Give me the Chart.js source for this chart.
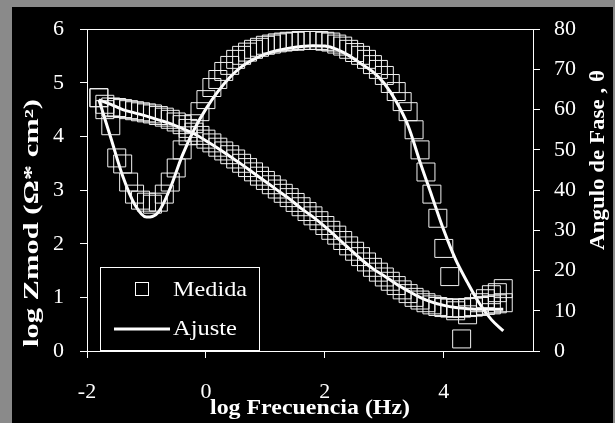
<!DOCTYPE html>
<html>
<head>
<meta charset="utf-8">
<script src="https://cdn.jsdelivr.net/npm/chart.js@4.4.1/dist/chart.umd.min.js"></script>
<style>
  html, body { margin: 0; padding: 0; background: #8a8a8a; }
  #wrap { width: 615px; height: 423px; }
</style>
</head>
<body>
<div id="wrap"><canvas id="bode" width="615" height="423"></canvas></div>
<script>
// --- datos ---
const logFreqMedida = [-1.8,-1.7,-1.6,-1.5,-1.4,-1.3,-1.2,-1.1,-1.0,-0.9,
  -0.8,-0.7,-0.6,-0.5,-0.4,-0.3,-0.2,-0.1,0.0,0.1,
  0.2,0.3,0.4,0.5,0.6,0.7,0.8,0.9,1.0,1.1,
  1.2,1.3,1.4,1.5,1.6,1.7,1.8,1.9,2.0,2.1,
  2.2,2.3,2.4,2.5,2.6,2.7,2.8,2.9,3.0,3.1,
  3.2,3.3,3.4,3.5,3.6,3.7,3.8,3.9,4.0,4.1,
  4.2,4.3,4.4,4.5,4.6,4.7,4.8,4.9,5.0];
const zmodMedida = [4.72,4.60,4.55,4.54,4.52,4.50,4.48,4.46,4.44,4.42,
  4.39,4.36,4.32,4.27,4.22,4.15,4.08,4.02,3.95,3.88,
  3.80,3.73,3.66,3.58,3.50,3.42,3.34,3.26,3.18,3.10,
  3.02,2.94,2.86,2.77,2.69,2.60,2.52,2.43,2.34,2.25,
  2.16,2.06,1.96,1.86,1.76,1.66,1.56,1.47,1.38,1.30,
  1.22,1.14,1.07,1.00,0.95,0.90,0.86,0.83,0.81,0.80,
  0.80,0.80,0.81,0.82,0.83,0.85,0.86,0.88,0.90];
const faseMedida = [63,60,56,48,46.5,42,39,37.5,37,36.5,
  37,39,42,45.5,50,53.5,56.5,59.5,62.5,65.5,
  67.5,69.5,71,72.5,73.5,74.3,75,75.5,76,76.3,
  76.6,76.8,77,77,77.2,77.2,77.2,77.2,77,76.8,
  76.3,75.8,75,74.2,73.5,72.5,71.2,70,68.5,66.5,
  64.5,62,59.5,55,50,44.5,39,33,25.5,18.5,
  10,3,9,11,12,13,14,14.5,15.5];

const logFreqAjuste = [-1.8,-1.6,-1.4,-1.2,-1.0,-0.8,-0.6,-0.4,-0.2,0.0,
  0.2,0.4,0.6,0.8,1.0,1.2,1.4,1.6,1.8,2.0,
  2.2,2.4,2.6,2.8,3.0,3.2,3.4,3.6,3.8,4.0,
  4.2,4.4,4.6,4.8,5.0];
const zmodAjuste = [4.68,4.60,4.50,4.44,4.38,4.31,4.24,4.15,4.05,3.92,
  3.78,3.63,3.48,3.32,3.16,3.00,2.84,2.66,2.50,2.32,
  2.12,1.92,1.72,1.54,1.40,1.25,1.12,1.00,0.91,0.85,
  0.81,0.79,0.78,0.78,0.78];
const faseAjuste = [62.5,53,43.5,36.5,33.3,34.5,40.5,48.5,55,60.2,
  64.5,68,70.7,72.5,73.8,74.7,75.3,75.7,75.9,75.8,
  75,73.5,71.5,69.5,66.5,62,56,47,38.5,30,
  22.7,17,11.8,7.8,5];

const xTicks = [-2, 0, 2, 4];
const serif = "'Liberation Serif', 'Times New Roman', serif";

function puntos(xs, ys) {
  return xs.map((x, i) => ({ x: x, y: ys[i] }));
}

// texto estirado a un largo dado (como en la imagen original)
function texto(ctx, str, x, y, rot, largo, font) {
  ctx.save();
  ctx.translate(x, y);
  ctx.rotate(rot);
  ctx.font = font;
  const w = ctx.measureText(str).width;
  ctx.scale(largo / w, 1);
  ctx.textAlign = 'center';
  ctx.textBaseline = 'middle';
  ctx.fillStyle = '#fff';
  ctx.fillText(str, 0, 0);
  ctx.restore();
}

// fondo, marco superior, títulos y leyenda
const marco = {
  id: 'marco',
  beforeDraw(chart) {
    const ctx = chart.ctx;
    ctx.save();
    ctx.fillStyle = '#8a8a8a';
    ctx.fillRect(0, 0, chart.width, chart.height);
    ctx.fillStyle = '#000';
    ctx.fillRect(12, 7, chart.width - 14, chart.height - 7);
    ctx.restore();
  },
  afterDraw(chart) {
    const ctx = chart.ctx;
    const a = chart.chartArea;
    ctx.save();
    ctx.strokeStyle = '#fff';
    ctx.lineWidth = 1;
    ctx.beginPath();
    ctx.moveTo(a.left, Math.round(a.top) + 0.5);
    ctx.lineTo(a.right, Math.round(a.top) + 0.5);
    ctx.stroke();

    texto(ctx, 'log Zmod (\u03A9* cm\u00B2)', 33, 223, -Math.PI / 2, 248, 'bold 20px ' + serif);
    texto(ctx, 'Angulo de Fase , \u03B8', 599, 160, -Math.PI / 2, 180, 'bold 20px ' + serif);
    texto(ctx, 'log Frecuencia (Hz)', 310, 409, 0, 200, 'bold 21px ' + serif);

    // leyenda
    ctx.fillStyle = '#000';
    ctx.fillRect(100, 267, 159, 83);
    ctx.strokeStyle = '#fff';
    ctx.lineWidth = 1;
    ctx.strokeRect(100.5, 267.5, 159, 83);
    ctx.strokeRect(135.5, 282.5, 13, 13);
    ctx.lineWidth = 3;
    ctx.beginPath();
    ctx.moveTo(114, 329);
    ctx.lineTo(170, 329);
    ctx.stroke();
    ctx.restore();
    texto(ctx, 'Medida', 210, 290, 0, 74, '21px ' + serif);
    texto(ctx, 'Ajuste', 205, 329, 0, 64, '21px ' + serif);
  }
};

const ejeComun = {
  grid: { drawOnChartArea: false, drawTicks: true, tickLength: 7, color: '#fff', lineWidth: 1 },
  border: { display: true, color: '#fff', width: 1 },
};

new Chart(document.getElementById('bode'), {
  type: 'scatter',
  data: {
    datasets: [
      {
        label: 'Medida',
        data: puntos(logFreqMedida, zmodMedida),
        yAxisID: 'y',
        showLine: false,
        pointStyle: 'rect',
        pointRadius: 12.7,
        pointBorderWidth: 1,
        pointBorderColor: '#f2f2f2',
        pointBackgroundColor: 'rgba(0,0,0,0)'
      },
      {
        label: 'Medida fase',
        data: puntos(logFreqMedida, faseMedida),
        yAxisID: 'y1',
        showLine: false,
        pointStyle: 'rect',
        pointRadius: 12.7,
        pointBorderWidth: 1,
        pointBorderColor: '#f2f2f2',
        pointBackgroundColor: 'rgba(0,0,0,0)'
      },
      {
        label: 'Ajuste',
        data: puntos(logFreqAjuste, zmodAjuste),
        yAxisID: 'y',
        showLine: true,
        borderColor: '#fff',
        borderWidth: 3,
        pointRadius: 0,
        cubicInterpolationMode: 'monotone',
        fill: false
      },
      {
        label: 'Ajuste fase',
        data: puntos(logFreqAjuste, faseAjuste),
        yAxisID: 'y1',
        showLine: true,
        borderColor: '#fff',
        borderWidth: 3,
        pointRadius: 0,
        cubicInterpolationMode: 'monotone',
        fill: false
      }
    ]
  },
  options: {
    responsive: false,
    animation: false,
    devicePixelRatio: 1,
    layout: { padding: { top: 28, left: 0, right: 0, bottom: 0 } },
    plugins: { legend: { display: false }, tooltip: { enabled: false } },
    scales: {
      x: {
        type: 'linear', min: -2, max: 5.5,
        ...ejeComun,
        afterBuildTicks: s => { s.ticks = xTicks.map(v => ({ value: v })); },
        afterFit: s => { s.height = 72; },
        ticks: { color: '#fff', font: { family: serif, size: 22 }, padding: 21, maxRotation: 0 }
      },
      y: {
        type: 'linear', position: 'left', min: 0, max: 6,
        ...ejeComun,
        afterFit: s => { s.width = 87; },
        ticks: { stepSize: 1, color: '#fff', font: { family: serif, size: 22 }, padding: 16 }
      },
      y1: {
        type: 'linear', position: 'right', min: 0, max: 80,
        ...ejeComun,
        afterFit: s => { s.width = 82; },
        ticks: { stepSize: 10, color: '#fff', font: { family: serif, size: 22 }, padding: 14 }
      }
    }
  },
  plugins: [marco]
});
</script>
</body>
</html>
